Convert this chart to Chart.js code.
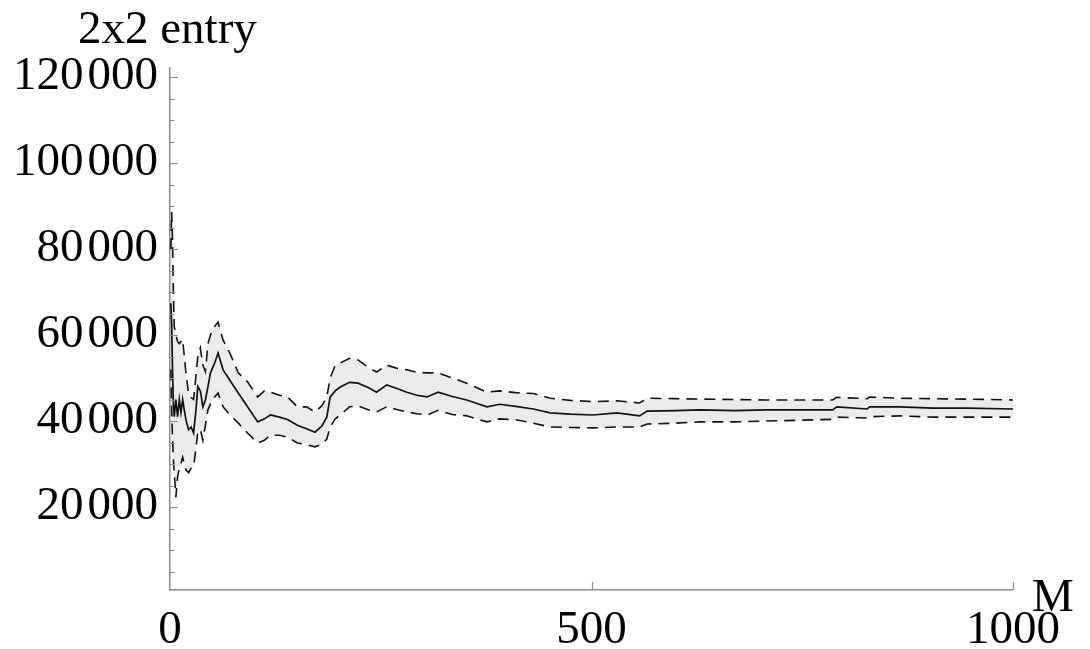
<!DOCTYPE html>
<html>
<head>
<meta charset="utf-8">
<script src="https://cdn.jsdelivr.net/npm/chart.js@4.4.1/dist/chart.umd.min.js"></script>
<style>
    html, body { margin: 0; padding: 0; background: #fff; }
    #wrap { width: 1090px; height: 649px; position: relative; }
</style>
</head>
<body>
<div id="wrap"><canvas id="entry-chart" width="1090" height="649"></canvas></div>
<script>
// sample sizes M
const sampleM = [1, 2, 3, 4, 5, 7, 9, 11, 13, 15, 17, 19, 22, 25, 28, 31, 33, 36, 39, 42, 45, 48, 53, 57, 63, 71, 81, 92, 104, 112,
    119, 130, 140, 151, 162, 172, 180, 186, 190, 196, 202, 213, 223, 235, 245, 257, 270, 281, 293, 305, 318, 335, 352, 376, 391, 410,
    431, 451, 475, 502, 530, 557, 566, 600, 629, 670, 708, 750, 786, 791, 827, 830, 866, 905, 945, 1000];

// running estimate of the 2x2 entry
const meanEntry = [67400, 62000, 52000, 44000, 41000, 45000, 41000, 45000, 42000, 45000, 42500, 40200, 38000, 38600, 37200, 43000,
    48000, 47000, 43300, 44900, 48000, 51200, 53500, 55800, 51900, 49500, 46500, 43300, 39800, 40500,
    41400, 40900, 40300, 39000, 38200, 37400, 38800, 40900, 45600, 47000, 47900, 49000, 48800, 47800, 46700, 48400, 47500, 46700,
    46000, 45600, 46700, 45700, 44900, 43300, 43900, 43400,
    42800, 41900, 41600, 41400, 41900, 41200, 42300, 42400, 42600, 42400, 42600, 42600, 42600, 43300, 42800, 43300, 43300, 43000,
    43000, 42800];

// upper confidence bound
const upperEntry = [80000, 88600, 82000, 70000, 62000, 60000, 58500, 58000, 58500, 59000, 55000, 51000, 46500, 45500, 45000, 51000,
    55000, 57000, 53000, 51500, 58000, 60000, 62000, 63000, 58800, 55800, 51200, 49100, 45600, 47000,
    46700, 46000, 45500, 43300, 43300, 42100, 43500, 45600, 50000, 53000, 53500, 54600, 54200, 52500, 51400, 53000, 52200, 51900,
    51300, 51200, 51200, 50000, 48800, 46700, 47000, 46600,
    46400, 45300, 44800, 44500, 44700, 44200, 45300, 45200, 45100, 45000, 44900, 44900, 44900, 45500, 45200, 45600, 45300, 45200,
    45100, 44900];

// lower confidence bound
const lowerEntry = [52000, 42000, 36000, 31000, 28000, 22300, 27000, 29000, 30200, 31600, 30000, 28600, 28000, 29000, 29300, 34000,
    37500, 38000, 35500, 39000, 42600, 44000, 45600, 46500, 43300, 41500, 39500, 37200, 34900, 35500,
    36700, 36700, 36200, 34900, 34500, 34000, 34600, 35800, 38600, 40500, 41400, 43300, 43500, 42600, 42100, 43300, 42600, 42100,
    41700, 41400, 42500, 41500, 41200, 39800, 40500, 40300,
    39500, 38600, 38500, 38400, 38600, 38600, 39300, 39500, 39800, 39800, 40000, 40200, 40400, 40900, 40700, 41000, 41200, 40900,
    40900, 40900];

const yMajorTicks = [20000, 40000, 60000, 80000, 100000, 120000];
const xMajorTicks = [0, 500, 1000];

const serif = '"Liberation Serif", "DejaVu Serif", serif';
const axisGray = '#8c8c8c';

const toPoints = (values) => sampleM.map((m, i) => ({ x: m, y: values[i] }));

// 120000 -> "120 000" with a narrow gap between digit groups
const groupDigits = (v) => String(v).replace(/\B(?=(\d{3})+(?!\d))/g, '\u200A');

// inward tick marks plus the two axis captions
const axisDecor = {
    id: 'axisDecor',
    afterDraw(chart) {
        const ctx = chart.ctx;
        const xs = chart.scales.x;
        const ys = chart.scales.y;
        const left = chart.chartArea.left;
        const bottom = chart.chartArea.bottom;

        ctx.save();
        ctx.strokeStyle = axisGray;
        ctx.lineWidth = 1.2;
        ctx.beginPath();
        for (let v = 5000; v <= 120000; v += 5000) {
            const py = Math.round(ys.getPixelForValue(v)) + 0.5;
            const len = yMajorTicks.includes(v) ? 8 : 4.5;
            ctx.moveTo(left, py);
            ctx.lineTo(left + len, py);
        }
        xMajorTicks.forEach(v => {
            if (v === 0) return;
            const px = Math.round(xs.getPixelForValue(v)) + 0.5;
            ctx.moveTo(px, bottom);
            ctx.lineTo(px, bottom - 8);
        });
        ctx.stroke();

        ctx.fillStyle = '#000';
        ctx.font = '47px ' + serif;
        ctx.textAlign = 'left';
        ctx.textBaseline = 'alphabetic';
        ctx.fillText('2x2 entry', 78, 43);
        ctx.fillText('M', 1032, 611);
        ctx.restore();
    }
};

const chart = new Chart(document.getElementById('entry-chart'), {
    type: 'line',
    data: {
        datasets: [
            {
                label: 'upper',
                data: toPoints(upperEntry),
                borderColor: '#111',
                borderWidth: 1.6,
                borderDash: [11, 7],
                backgroundColor: '#ebebeb',
                fill: '+1',
                pointRadius: 0,
                tension: 0
            },
            {
                label: 'lower',
                data: toPoints(lowerEntry),
                borderColor: '#111',
                borderWidth: 1.6,
                borderDash: [11, 7],
                fill: false,
                pointRadius: 0,
                tension: 0
            },
            {
                label: 'mean',
                data: toPoints(meanEntry),
                borderColor: '#111',
                borderWidth: 1.7,
                fill: false,
                pointRadius: 0,
                tension: 0
            }
        ]
    },
    options: {
        responsive: false,
        animation: false,
        layout: { padding: { top: 68, right: 77, left: 0, bottom: 0 } },
        plugins: {
            legend: { display: false },
            tooltip: { enabled: false },
            // band first, then all three lines on top of it
            filler: { drawTime: 'beforeDatasetsDraw' }
        },
        scales: {
            x: {
                type: 'linear',
                min: 0,
                max: 1000,
                afterBuildTicks: (scale) => { scale.ticks = xMajorTicks.map(v => ({ value: v })); },
                afterFit: (scale) => { scale.height = 59; },
                grid: { display: false, drawTicks: false },
                border: { display: true, color: axisGray, width: 1.5 },
                ticks: {
                    color: '#000',
                    font: { family: serif, size: 47 },
                    padding: 12,
                    maxRotation: 0,
                    autoSkip: false,
                    callback: (v) => String(v)
                }
            },
            y: {
                min: 700,
                max: 122100,
                afterBuildTicks: (scale) => { scale.ticks = yMajorTicks.map(v => ({ value: v })); },
                afterFit: (scale) => { scale.width = 170; },
                grid: { display: false, drawTicks: false },
                border: { display: true, color: axisGray, width: 1.5 },
                ticks: {
                    color: '#000',
                    font: { family: serif, size: 47 },
                    padding: 12,
                    autoSkip: false,
                    callback: (v) => groupDigits(v)
                }
            }
        }
    },
    plugins: [axisDecor]
});
</script>
</body>
</html>
